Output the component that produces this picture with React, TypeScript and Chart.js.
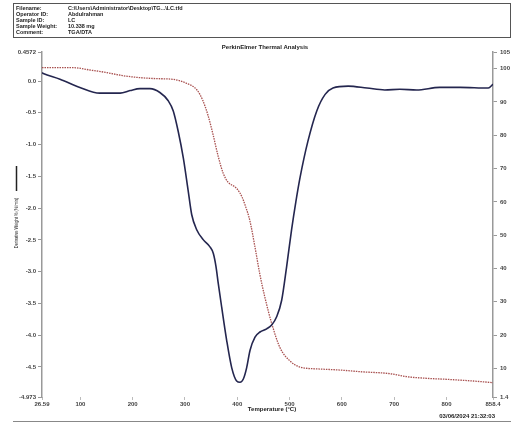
import React, { useEffect, useRef } from "react";
import { Chart, registerables } from "chart.js";

Chart.register(...registerables);

// Derivative weight (%/min) curve
const derivTemps = [26.59, 29, 61, 99, 137, 176, 195, 214, 233, 252, 268, 277.6, 287, 296.8, 306, 312.8, 322.4, 335.2, 347.8, 354.1, 359.3, 363.7, 370.2, 379.7, 389.3, 398.8, 405.2, 411.6, 418, 424.3, 433.9, 443.4, 456.2, 465.8, 475.3, 484.9, 494.4, 504, 512, 520, 535, 552, 568, 583, 612, 648, 682, 711, 743, 787, 826, 880, 889];
const derivValues = [0.13, 0.12, 0.03, -0.1, -0.19, -0.19, -0.15, -0.12, -0.12, -0.18, -0.31, -0.47, -0.79, -1.21, -1.72, -2.1, -2.34, -2.5, -2.61, -2.71, -2.92, -3.19, -3.56, -4.08, -4.51, -4.72, -4.74, -4.69, -4.51, -4.24, -4.03, -3.95, -3.9, -3.84, -3.71, -3.45, -2.92, -2.33, -1.9, -1.52, -0.95, -0.47, -0.21, -0.11, -0.08, -0.11, -0.14, -0.13, -0.14, -0.1, -0.1, -0.11, -0.05];

// Weight (%) curve
const weightTemps = [26.59, 86, 118, 151, 181, 214, 246, 277, 303, 323, 334, 344, 354, 363, 373, 382, 399, 409, 415, 424, 434, 443, 453, 466, 482, 501, 520, 558, 596, 635, 692, 724, 763, 801, 851, 889];
const weightValues = [100.3, 100.3, 99.6, 98.8, 97.9, 97.3, 97.0, 96.8, 95.6, 93.6, 90.5, 86, 80, 74, 68.6, 66, 64, 61.5, 59, 54.4, 46.3, 38.4, 31.2, 23.4, 16.1, 12.2, 10.4, 9.8, 9.5, 9.0, 8.4, 7.5, 7.0, 6.7, 6.2, 5.7];

const xTicks = [26.59, 100, 200, 300, 400, 500, 600, 700, 800, 889];
const xTickLabels = ["26.59", "100", "200", "300", "400", "500", "600", "700", "800", "858.4"];
const leftTicks = [-4.973, -4.5, -4.0, -3.5, -3.0, -2.5, -2.0, -1.5, -1.0, -0.5, 0.0, 0.4572];
const leftTickLabels = ["-4.973", "-4.5", "-4.0", "-3.5", "-3.0", "-2.5", "-2.0", "-1.5", "-1.0", "-0.5", "0.0", "0.4572"];
const rightTicks = [1.4, 10, 20, 30, 40, 50, 60, 70, 80, 90, 100, 105];
const rightTickLabels = ["1.4", "10", "20", "30", "40", "50", "60", "70", "80", "90", "100", "105"];

const headerLabels = ["Filename:", "Operator ID:", "Sample ID:", "Sample Weight:", "Comment:"];
const headerValues = ["C:\\Users\\Administrator\\Desktop\\TG...\\LC.tfd", "Abdulrahman", "LC", "10.338 mg", "TGA/DTA"];
const chartTitle = "PerkinElmer Thermal Analysis";
const xAxisTitle = "Temperature (°C)";
const yAxisTitle = "Derivative Weight % (%/min)";
const timestamp = "03/06/2024 21:32:03";

const FONT = "'Liberation Sans', Arial, sans-serif";

const decorPlugin = {
  id: "decor",
  afterDraw(chart: any) {
    const ctx = chart.ctx as CanvasRenderingContext2D;
    ctx.save();
    // header box
    ctx.strokeStyle = "#555";
    ctx.lineWidth = 1;
    ctx.strokeRect(13.5, 3.5, 497, 34);
    ctx.fillStyle = "#222";
    ctx.font = `bold 5.5px ${FONT}`;
    ctx.textBaseline = "middle";
    ctx.textAlign = "left";
    headerLabels.forEach((l, i) => {
      const y = 8 + i * 6.2;
      ctx.fillText(l, 16, y);
      ctx.fillText(headerValues[i], 68, y);
    });
    // title
    ctx.textAlign = "center";
    ctx.font = `bold 6px ${FONT}`;
    ctx.fillText(chartTitle, 265, 47);
    // x axis title
    ctx.fillText(xAxisTitle, 272, 409);
    // timestamp
    ctx.textAlign = "right";
    ctx.fillText(timestamp, 495, 416.5);
    // bottom rule
    ctx.strokeStyle = "#888";
    ctx.beginPath();
    ctx.moveTo(13, 421.5);
    ctx.lineTo(511, 421.5);
    ctx.stroke();
    // left axis title with legend line
    ctx.strokeStyle = "#222";
    ctx.lineWidth = 1.5;
    ctx.beginPath();
    ctx.moveTo(16.5, 166);
    ctx.lineTo(16.5, 191);
    ctx.stroke();
    ctx.translate(16, 223);
    ctx.rotate(-Math.PI / 2);
    ctx.scale(0.72, 1);
    ctx.textAlign = "center";
    ctx.font = `5.5px ${FONT}`;
    ctx.fillText(yAxisTitle, 0, 0);
    ctx.restore();
  },
};

export default function App() {
  const ref = useRef<HTMLCanvasElement>(null);
  useEffect(() => {
    document.body.style.margin = "0";
    const canvas = ref.current!;
    const deriv = derivTemps.map((t, i) => ({ x: t, y: derivValues[i] }));
    const weight = weightTemps.map((t, i) => ({ x: t, y: weightValues[i] }));
    const tickFont = { family: FONT, size: 6, weight: "bold" as const };
    const chart = new Chart(canvas, {
      type: "line",
      data: {
        datasets: [
          {
            data: deriv,
            yAxisID: "y",
            borderColor: "#24264f",
            borderWidth: 1.6,
            pointRadius: 0,
            cubicInterpolationMode: "monotone",
            fill: false,
          },
          {
            data: weight,
            yAxisID: "y2",
            borderColor: "#a8504f",
            borderWidth: 1.3,
            borderDash: [1.5, 1],
            pointRadius: 0,
            cubicInterpolationMode: "monotone",
            fill: false,
          },
        ],
      },
      options: {
        animation: false,
        responsive: false,
        maintainAspectRatio: false,
        layout: { padding: { top: 52, left: 0, right: 0, bottom: 0 } },
        plugins: { legend: { display: false }, tooltip: { enabled: false }, title: { display: false } },
        scales: {
          x: {
            type: "linear",
            min: 26.59,
            max: 889,
            border: { display: false },
            grid: { drawOnChartArea: false, drawTicks: true, tickLength: 3, color: "#bbb" },
            afterBuildTicks: (s: any) => { s.ticks = xTicks.map((v) => ({ value: v })); },
            afterFit: (s: any) => { s.height = 26; },
            ticks: {
              autoSkip: false,
              maxRotation: 0,
              padding: 1,
              color: "#444",
              font: tickFont,
              callback: (v: any) => { const i = xTicks.indexOf(Number(v)); return i >= 0 ? xTickLabels[i] : ""; },
            },
          },
          y: {
            type: "linear",
            position: "left",
            min: -4.973,
            max: 0.4572,
            border: { display: true, color: "#999", width: 1.5 },
            grid: { drawOnChartArea: false, drawTicks: true, tickLength: 4, color: "#999" },
            afterBuildTicks: (s: any) => { s.ticks = leftTicks.map((v) => ({ value: v })); },
            afterFit: (s: any) => { s.width = 42; },
            ticks: {
              autoSkip: false,
              padding: 2,
              color: "#444",
              font: tickFont,
              callback: (v: any) => { const i = leftTicks.indexOf(Number(v)); return i >= 0 ? leftTickLabels[i] : ""; },
            },
          },
          y2: {
            type: "linear",
            position: "right",
            min: 1.4,
            max: 105,
            border: { display: true, color: "#999", width: 1.5 },
            grid: { drawOnChartArea: false, drawTicks: true, tickLength: 4, color: "#999" },
            afterBuildTicks: (s: any) => { s.ticks = rightTicks.map((v) => ({ value: v })); },
            afterFit: (s: any) => { s.width = 18; },
            ticks: {
              autoSkip: false,
              padding: 3,
              color: "#444",
              font: tickFont,
              callback: (v: any) => { const i = rightTicks.indexOf(Number(v)); return i >= 0 ? rightTickLabels[i] : ""; },
            },
          },
        },
      },
      plugins: [decorPlugin],
    });
    return () => chart.destroy();
  }, []);
  return (
    <div style={{ width: 511, height: 423 }}>
      <canvas ref={ref} width={511} height={423} style={{ display: "block" }} />
    </div>
  );
}
